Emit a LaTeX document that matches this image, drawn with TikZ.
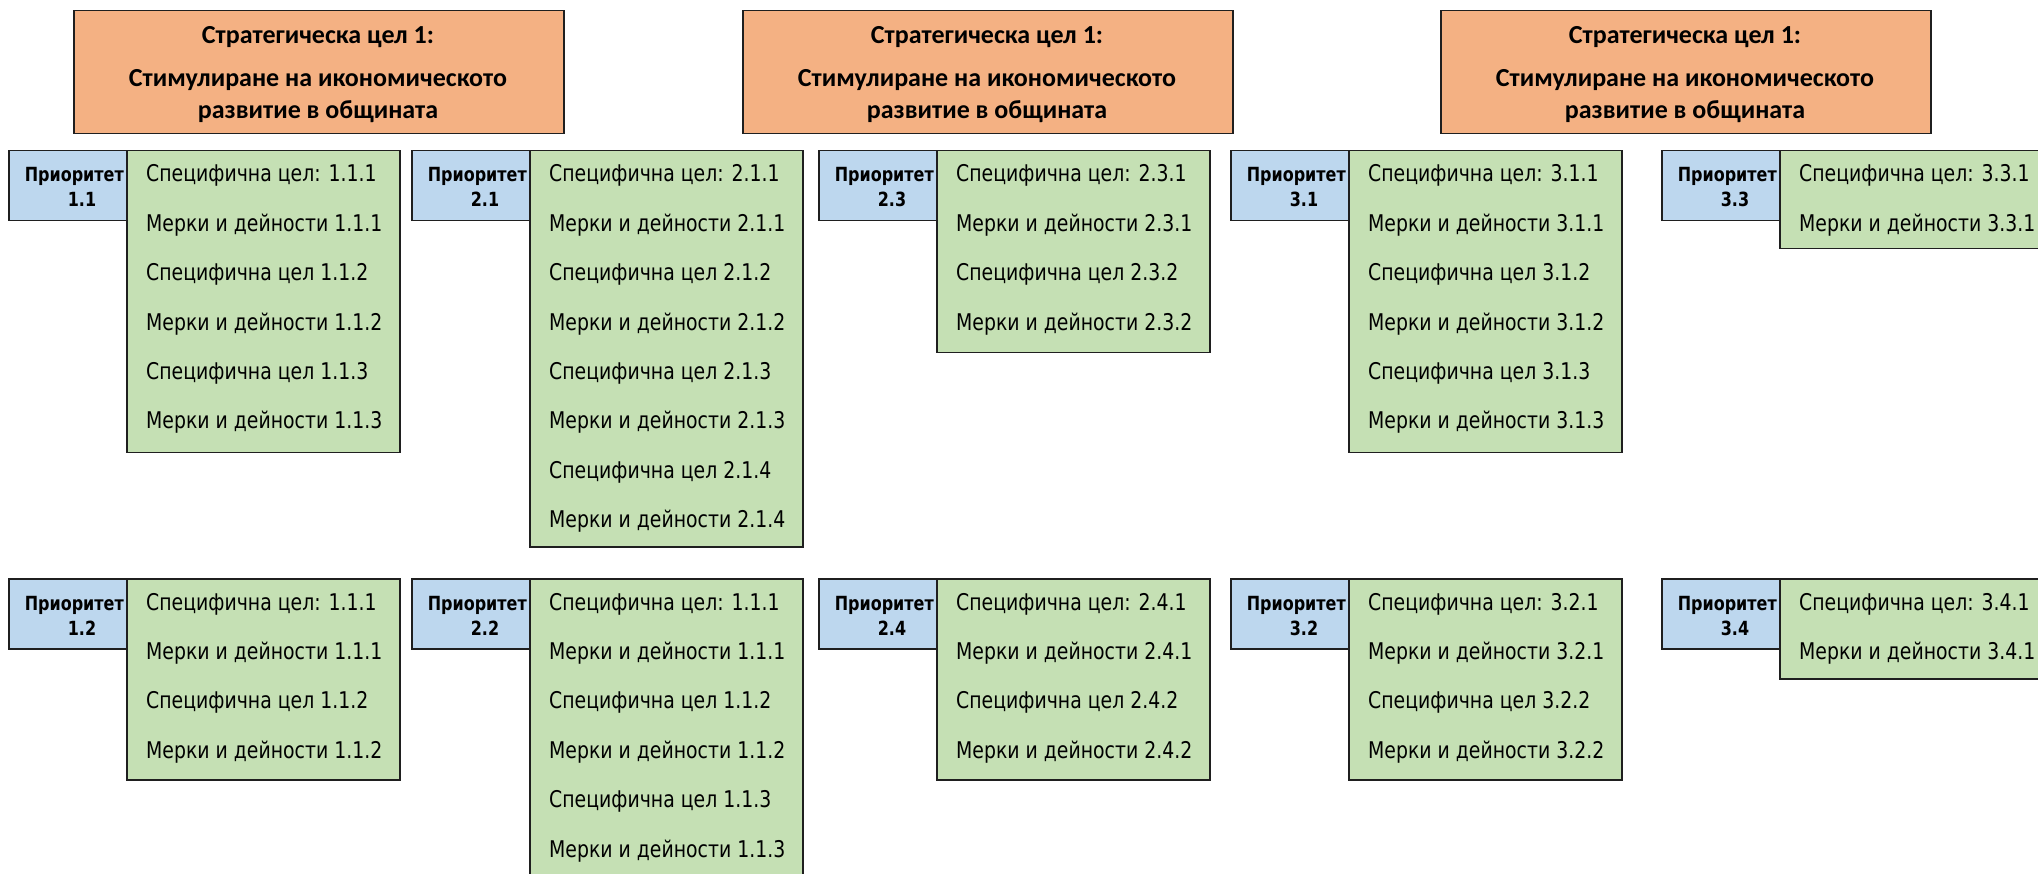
\documentclass[tikz,border=0pt]{standalone}
\usepackage{fontspec}
\setmainfont{DejaVu Sans}[FakeStretch=0.82]
\newfontfamily\goalfont{Carlito}
\definecolor{orangefill}{HTML}{F4B183}
\definecolor{bluefill}{HTML}{BDD7EE}
\definecolor{greenfill}{HTML}{C5E0B4}
\definecolor{edgecol}{HTML}{1F1F1F}
\tikzset{
 boxbase/.style={draw=edgecol, line width=1.5pt, rectangle, inner sep=0pt, anchor=north west},
 goalbox/.style={boxbase, fill=orangefill, minimum width=490pt, minimum height=123pt},
 priobox/.style={boxbase, fill=bluefill, minimum width=118pt, minimum height=70pt},
 itembox/.style={boxbase, fill=greenfill, minimum width=273pt},
 itemtext/.style={anchor=base west, inner sep=0pt, font=\fontsize{23}{27}\selectfont},
 priotext/.style={inner sep=0pt, font=\fontsize{19.5}{23}\selectfont\bfseries},
 goaltext/.style={anchor=base, inner sep=0pt, font=\goalfont\fontsize{26}{30}\selectfont\bfseries},
}
\newcommand\prioblock[6]{%
 \node[itembox, minimum height=#5pt] (g#1) at (#2+118,#3) {};
 \node[priobox] (p#1) at (#2,#3) {};
 \node[priotext, anchor=base east] (pt#1) at (#2+116,#3+32) {Приоритет};
 \node[priotext, anchor=base] (pn#1) at (#2+74,#3+57) {#4};
 \foreach \itm [count=\i from 0] in {#6} {
   \node[itemtext] (i#1-\i) at (#2+138, #3+32+49.4*\i) {\itm};
 }
}
\newcommand\goalblock[2]{%
 \node[goalbox] (s#1) at (#2,10) {};
 \node[goaltext] (s#1a) at (#2+245,44) {Стратегическа цел 1:};
 \node[goaltext] (s#1b) at (#2+245,86.5) {Стимулиране на икономическото};
 \node[goaltext] (s#1c) at (#2+245,118.5) {развитие в общината};
}
\begin{document}
\begin{tikzpicture}[x=1pt,y=-1pt]
\useasboundingbox (0,0) rectangle (2038,874);
\clip (0,0) rectangle (2038,874);
\goalblock{1}{73}
\goalblock{2}{742}
\goalblock{3}{1440}
% top row
\prioblock{11}{8}{150}{1.1}{302}{Специфична цел: 1.1.1,Мерки и дейности 1.1.1,Специфична цел 1.1.2,Мерки и дейности 1.1.2,Специфична цел 1.1.3,Мерки и дейности 1.1.3}
\prioblock{21}{411}{150}{2.1}{396}{Специфична цел: 2.1.1,Мерки и дейности 2.1.1,Специфична цел 2.1.2,Мерки и дейности 2.1.2,Специфична цел 2.1.3,Мерки и дейности 2.1.3,Специфична цел 2.1.4,Мерки и дейности 2.1.4}
\prioblock{23}{818}{150}{2.3}{202}{Специфична цел: 2.3.1,Мерки и дейности 2.3.1,Специфична цел 2.3.2,Мерки и дейности 2.3.2}
\prioblock{31}{1230}{150}{3.1}{302}{Специфична цел: 3.1.1,Мерки и дейности 3.1.1,Специфична цел 3.1.2,Мерки и дейности 3.1.2,Специфична цел 3.1.3,Мерки и дейности 3.1.3}
\prioblock{33}{1661}{150}{3.3}{98}{Специфична цел: 3.3.1,Мерки и дейности 3.3.1}
% bottom row
\prioblock{12}{8}{578}{1.2}{201}{Специфична цел: 1.1.1,Мерки и дейности 1.1.1,Специфична цел 1.1.2,Мерки и дейности 1.1.2}
\prioblock{22}{411}{578}{2.2}{302}{Специфична цел: 1.1.1,Мерки и дейности 1.1.1,Специфична цел 1.1.2,Мерки и дейности 1.1.2,Специфична цел 1.1.3,Мерки и дейности 1.1.3}
\prioblock{24}{818}{578}{2.4}{201}{Специфична цел: 2.4.1,Мерки и дейности 2.4.1,Специфична цел 2.4.2,Мерки и дейности 2.4.2}
\prioblock{32}{1230}{578}{3.2}{201}{Специфична цел: 3.2.1,Мерки и дейности 3.2.1,Специфична цел 3.2.2,Мерки и дейности 3.2.2}
\prioblock{34}{1661}{578}{3.4}{100}{Специфична цел: 3.4.1,Мерки и дейности 3.4.1}
\end{tikzpicture}
\end{document}
